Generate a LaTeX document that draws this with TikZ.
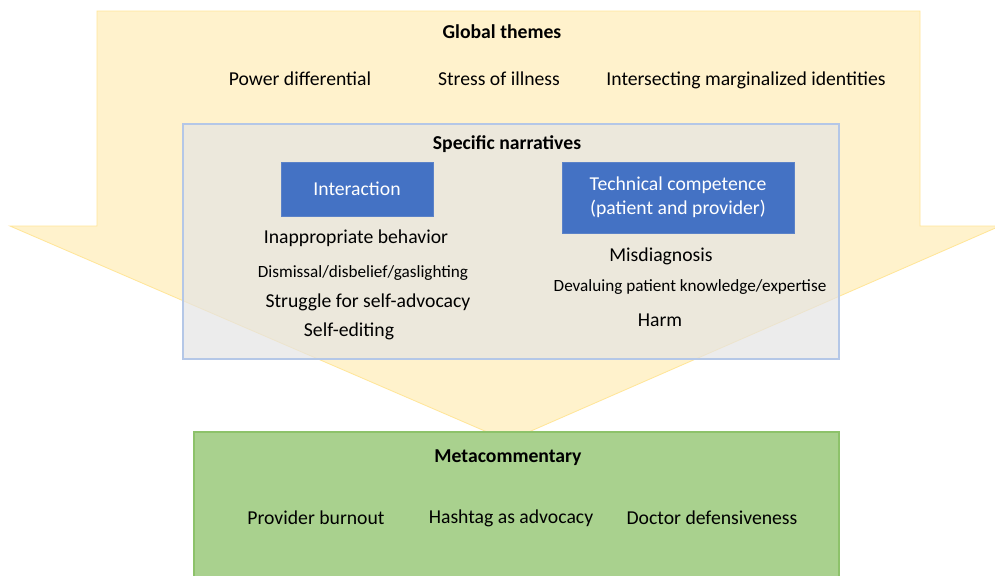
\documentclass[tikz,border=0pt]{standalone}
\usepackage{fontspec}
\setmainfont{Carlito}
\definecolor{arrowfill}{HTML}{FFF2CC}
\definecolor{arrowline}{HTML}{FFE699}
\definecolor{panelfill}{HTML}{E5E4E4}
\definecolor{panelline}{HTML}{B4C7E7}
\definecolor{themeblue}{HTML}{4472C4}
\definecolor{themeline}{HTML}{5B82C8}
\definecolor{metafill}{HTML}{A9D18E}
\definecolor{metaline}{HTML}{8DC26A}
\tikzset{
  item/.style={font=\fontsize{14}{17}\selectfont, inner sep=0pt},
  smallitem/.style={font=\fontsize{12.2}{15}\selectfont, inner sep=0pt},
  heading/.style={font=\fontsize{14}{16}\selectfont\bfseries, inner sep=0pt},
  themebox/.style={fill=themeblue, draw=themeline, line width=0.4pt, text=white,
    font=\fontsize{14}{17}\selectfont, align=center, inner sep=0pt}
}
\begin{document}
\begin{tikzpicture}[x=0.025cm, y=-0.025cm]
  \useasboundingbox (0,0) rectangle (995,575);
  \fill[white] (0,0) rectangle (995,575);
  \draw[fill=arrowfill, draw=arrowline, line width=0.6pt]
    (97,11) -- (920,11) -- (920,226) -- (1000,226) -- (508,441) -- (10,226) -- (97,226) -- cycle;
  \node[heading] (global) at (502,32) {Global themes};
  \node[item] (power) at (300,79) {Power differential};
  \node[item] (stress) at (499,79) {Stress of illness};
  \node[item] (intersect) at (746,80) {Intersecting marginalized identities};
  \fill[panelfill, opacity=0.7] (183,124) rectangle (839,359);
  \draw[panelline, line width=0.8pt] (183,124) rectangle (839,359);
  \node[heading] (specific) at (507,144) {Specific narratives};
  \node[themebox, minimum width=3.8cm, minimum height=1.35cm] (interaction) at (357,189) {Interaction};
  \node[themebox, minimum width=5.8cm, minimum height=1.775cm] (technical) at (678,197.5)
    {Technical competence\\(patient and provider)};
  \node[item] (inapp) at (356,238) {Inappropriate behavior};
  \node[smallitem] (dismiss) at (363,273) {Dismissal/disbelief/gaslighting};
  \node[item] (struggle) at (368,302) {Struggle for self-advocacy};
  \node[item] (selfedit) at (349,331) {Self-editing};
  \node[item] (misdiag) at (661,256) {Misdiagnosis};
  \node[smallitem] (devalue) at (690,287) {Devaluing patient knowledge/expertise};
  \node[item] (harm) at (660,320) {Harm};
  \draw[fill=metafill, draw=metaline, line width=0.8pt] (194,432) rectangle (839,578);
  \node[heading] (meta) at (508,458) {Metacommentary};
  \foreach \name/\x/\txt in {burnout/316/Provider burnout, hashtag/511/Hashtag as advocacy,
    defensive/712/Doctor defensiveness}
    \node[item] (\name) at (\x,518) {\txt};
\end{tikzpicture}
\end{document}
